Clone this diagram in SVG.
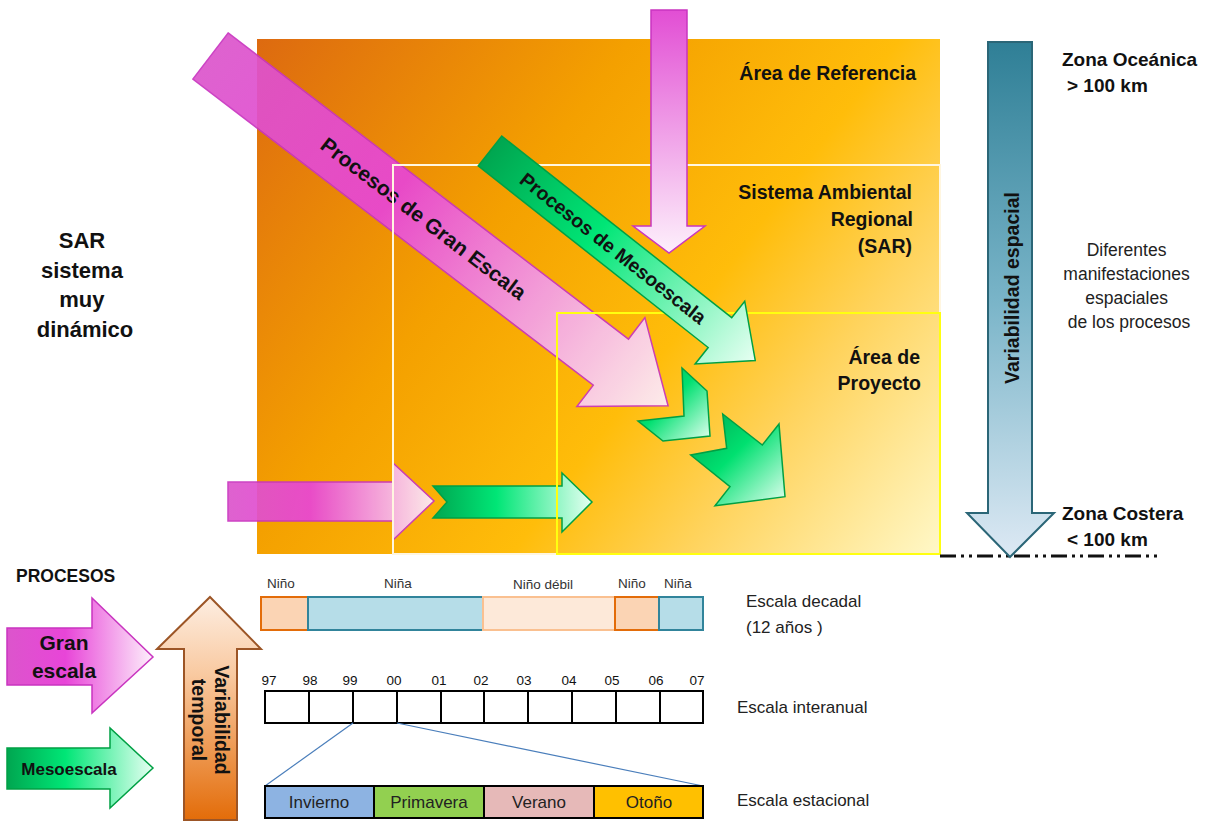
<svg xmlns="http://www.w3.org/2000/svg" width="1208" height="821" viewBox="0 0 1208 821">
  <defs>
    <!-- background of the reference area -->
    <linearGradient id="bgGrad" gradientUnits="userSpaceOnUse" x1="257" y1="39" x2="940" y2="554">
      <stop offset="0" stop-color="#dd6a10"/>
      <stop offset="0.35" stop-color="#f4a000"/>
      <stop offset="0.6" stop-color="#ffbd0a"/>
      <stop offset="0.76" stop-color="#ffd35c"/>
      <stop offset="1" stop-color="#fff8c8"/>
    </linearGradient>
    <linearGradient id="pinkH" x1="0" y1="0" x2="1" y2="0">
      <stop offset="0" stop-color="#dc55cc"/>
      <stop offset="0.4" stop-color="#e845d8"/>
      <stop offset="1" stop-color="#fdf0fb"/>
    </linearGradient>
    <linearGradient id="pinkV" x1="0" y1="0" x2="0" y2="1">
      <stop offset="0" stop-color="#e24ed4"/>
      <stop offset="1" stop-color="#fdf0fb"/>
    </linearGradient>
    <linearGradient id="greenH" x1="0" y1="0" x2="1" y2="0">
      <stop offset="0" stop-color="#00a650"/>
      <stop offset="0.4" stop-color="#00e676"/>
      <stop offset="1" stop-color="#e6fff2"/>
    </linearGradient>
    <linearGradient id="greenD" x1="0" y1="0" x2="1" y2="1">
      <stop offset="0" stop-color="#00a650"/>
      <stop offset="0.45" stop-color="#00e070"/>
      <stop offset="1" stop-color="#e6fff2"/>
    </linearGradient>
    <linearGradient id="blueV" x1="0" y1="0" x2="0" y2="1">
      <stop offset="0" stop-color="#2f7f96"/>
      <stop offset="0.5" stop-color="#79b4c8"/>
      <stop offset="1" stop-color="#dde9f4"/>
    </linearGradient>
    <linearGradient id="orangeV" x1="0" y1="0" x2="0" y2="1">
      <stop offset="0" stop-color="#fdeee2"/>
      <stop offset="0.35" stop-color="#f9c9a0"/>
      <stop offset="1" stop-color="#e36c09"/>
    </linearGradient>
    <style>
      .b { font-family: "Liberation Sans", Arial, sans-serif; font-weight: bold; fill: #111; }
      .r { font-family: "Liberation Sans", Arial, sans-serif; fill: #222; }
      .pink { fill: url(#pinkH); stroke: #c935c0; stroke-width: 1.5; }
      .green { fill: url(#greenH); stroke: #00a044; stroke-width: 1.5; }
      .chev { fill: url(#greenD); stroke: #00a044; stroke-width: 1.5; }
      .cell { fill: #ffffff; stroke: #000; stroke-width: 2; }
      .season { stroke: #000; stroke-width: 2; }
    </style>
  </defs>

  <!-- Área de Referencia background -->
  <g id="area-referencia">
    <rect x="257" y="39" width="683" height="515" fill="url(#bgGrad)"/>
    <text class="b" x="916" y="80" font-size="19.5" text-anchor="end">Área de Referencia</text>
  </g>

  <!-- Large scale diagonal process -->
  <g id="procesos-gran-escala" transform="translate(210.5,56) rotate(37.4)">
    <polygon class="pink" opacity="0.92" points="0,-29 504,-29 504,-56 576,0 504,56 504,29 0,29"/>
    <text class="b" x="268" y="7" font-size="21" text-anchor="middle">Procesos de Gran Escala</text>
  </g>

  <!-- horizontal processes crossing the area -->
  <g id="flecha-gran-escala-h">
    <polygon class="pink" opacity="0.92" points="228,482 393,482 393,463 434,501 393,540 393,521 228,521"/>
  </g>
  <g id="flecha-mesoescala-h">
    <polygon class="green" points="433,486 562,486 562,473 592,502 562,532 562,518 433,518 447,502"/>
  </g>

  <!-- Sistema Ambiental Regional -->
  <g id="sar">
    <rect x="393" y="165" width="547" height="389" fill="none" stroke="#fff6e0" stroke-width="2"/>
    <text class="b" x="912" y="199" font-size="19.5" text-anchor="end">Sistema Ambiental</text>
    <text class="b" x="913" y="226" font-size="19.5" text-anchor="end">Regional</text>
    <text class="b" x="912" y="253" font-size="19.5" text-anchor="end">(SAR)</text>
  </g>

  <!-- Área de Proyecto -->
  <g id="area-proyecto">
    <rect x="557" y="313" width="383" height="241" fill="none" stroke="#ffff10" stroke-width="2"/>
    <text class="b" x="920" y="364" font-size="19.5" text-anchor="end">Área de</text>
    <text class="b" x="921" y="390" font-size="19.5" text-anchor="end">Proyecto</text>
  </g>

  <!-- Mesoscale diagonal process -->
  <g id="procesos-mesoescala" transform="translate(490,151) rotate(38.3)">
    <polygon class="green" points="0,-19 293,-19 293,-40 338,0 293,40 293,19 0,19"/>
    <text class="b" x="157" y="7" font-size="19.5" text-anchor="middle">Procesos de Mesoescala</text>
  </g>

  <!-- vertical large scale input -->
  <g id="flecha-gran-escala-v">
    <polygon class="pink" style="fill:url(#pinkV)" points="651,10 687,10 687,226 705,226 669,253 633,226 651,226"/>
  </g>

  <!-- mesoscale chevrons -->
  <g id="chevrones">
    <polygon class="chev" points="682,368 707,391 710,436 663,441 638,421 684,416"/>
    <polygon class="chev" points="722.7,414 762.3,445 779,424 785,496.7 715,505.7 730,486.7 690.7,455 726.7,448.3"/>
  </g>

  <!-- Variabilidad espacial -->
  <g id="variabilidad-espacial">
    <line x1="940" y1="556" x2="1162" y2="556" stroke="#111" stroke-width="3" stroke-dasharray="16,5,3,5,3,5"/>
    <polygon points="988,42 1032,42 1032,513 1054,513 1010,557 967,513 988,513" fill="url(#blueV)" stroke="#2b6677" stroke-width="2"/>
    <text class="b" transform="translate(1019,288) rotate(-90)" font-size="19.5" text-anchor="middle">Variabilidad espacial</text>
  </g>

  <g id="zona-oceanica">
    <text class="b" x="1062" y="66" font-size="19">Zona Oceánica</text>
    <text class="b" x="1067" y="92" font-size="19">&gt; 100 km</text>
  </g>
  <g id="zona-costera">
    <text class="b" x="1062" y="520" font-size="19">Zona Costera</text>
    <text class="b" x="1067" y="546" font-size="19">&lt; 100 km</text>
  </g>
  <g id="manifestaciones">
    <text class="r" font-size="17.5" text-anchor="middle">
      <tspan x="1129" y="256">Diferentes</tspan>
      <tspan x="1129" y="280">manifestaciones</tspan>
      <tspan x="1129" y="304">espaciales</tspan>
      <tspan x="1129" y="328">de los procesos</tspan>
    </text>
  </g>

  <g id="sar-dinamico">
    <text class="b" font-size="22" text-anchor="middle">
      <tspan x="85" y="248">SAR</tspan>
      <tspan x="85" y="278">sistema</tspan>
      <tspan x="85" y="307">muy</tspan>
      <tspan x="85" y="337">dinámico</tspan>
    </text>
  </g>

  <!-- legend of processes -->
  <g id="procesos">
    <text class="b" x="16" y="582" font-size="17.5">PROCESOS</text>
  </g>
  <g id="leyenda-gran-escala">
    <polygon class="pink" points="7,628 92,628 92,598 153,657 92,713 92,685 7,685"/>
    <text class="b" x="64" y="650" font-size="21" text-anchor="middle">Gran</text>
    <text class="b" x="64" y="678" font-size="21" text-anchor="middle">escala</text>
  </g>
  <g id="leyenda-mesoescala">
    <polygon class="green" points="7,748 110,748 110,728 153,768 110,808 110,789 7,789"/>
    <text class="b" x="69" y="775" font-size="17" text-anchor="middle">Mesoescala</text>
  </g>

  <!-- Variabilidad temporal -->
  <g id="variabilidad-temporal">
    <polygon points="210,597 261,649 237,649 237,820 184,820 184,649 157,649" fill="url(#orangeV)" stroke="#9c5526" stroke-width="2"/>
    <text class="b" transform="translate(215,720) rotate(90)" font-size="19.5" text-anchor="middle">Variabilidad</text>
    <text class="b" transform="translate(192,720) rotate(90)" font-size="19.5" text-anchor="middle">temporal</text>
  </g>

  <!-- Escala decadal -->
  <g id="escala-decadal">
    <rect x="261" y="597" width="47" height="33" fill="#fbd4b4" stroke="#e36c09" stroke-width="2"/>
    <rect x="308" y="597" width="175" height="33" fill="#b6dde8" stroke="#31849b" stroke-width="2"/>
    <rect x="483" y="597" width="132" height="33" fill="#fde9d9" stroke="#fac090" stroke-width="2"/>
    <rect x="615" y="597" width="44" height="33" fill="#fbd4b4" stroke="#e36c09" stroke-width="2"/>
    <rect x="659" y="597" width="44" height="33" fill="#b6dde8" stroke="#31849b" stroke-width="2"/>
    <g class="r" font-size="13.5" text-anchor="middle" style="fill:#333">
      <text x="281" y="588">Niño</text>
      <text x="398" y="588">Niña</text>
      <text x="543" y="589">Niño débil</text>
      <text x="632" y="588">Niño</text>
      <text x="678" y="588">Niña</text>
    </g>
    <text class="r" x="746" y="607" font-size="17">Escala decadal</text>
    <text class="r" x="746" y="633" font-size="17">(12 años )</text>
  </g>

  <!-- Escala interanual -->
  <g id="escala-interanual">
    <g class="r" font-size="13.5" text-anchor="middle" style="fill:#111">
      <text x="269" y="685">97</text>
      <text x="310" y="685">98</text>
      <text x="350" y="685">99</text>
      <text x="394" y="685">00</text>
      <text x="439" y="685">01</text>
      <text x="481" y="685">02</text>
      <text x="524" y="685">03</text>
      <text x="569" y="685">04</text>
      <text x="612" y="685">05</text>
      <text x="656" y="685">06</text>
      <text x="697" y="685">07</text>
    </g>
    <rect class="cell" x="265" y="691" width="44" height="32"/>
    <rect class="cell" x="309" y="691" width="44" height="32"/>
    <rect class="cell" x="353" y="691" width="44" height="32"/>
    <rect class="cell" x="397" y="691" width="44" height="32"/>
    <rect class="cell" x="441" y="691" width="43" height="32"/>
    <rect class="cell" x="484" y="691" width="44" height="32"/>
    <rect class="cell" x="528" y="691" width="44" height="32"/>
    <rect class="cell" x="572" y="691" width="44" height="32"/>
    <rect class="cell" x="616" y="691" width="44" height="32"/>
    <rect class="cell" x="660" y="691" width="43" height="32"/>
    <text class="r" x="737" y="713" font-size="17">Escala interanual</text>
  </g>

  <!-- zoom lines from year 99 to seasons -->
  <g id="conectores">
    <line x1="353" y1="723" x2="265" y2="786" stroke="#4a7ebb" stroke-width="1.2"/>
    <line x1="397" y1="723" x2="703" y2="786" stroke="#4a7ebb" stroke-width="1.2"/>
  </g>

  <!-- Escala estacional -->
  <g id="escala-estacional">
    <rect class="season" x="265" y="786" width="109" height="32" fill="#8db3e2"/>
    <rect class="season" x="374" y="786" width="110" height="32" fill="#92d050"/>
    <rect class="season" x="484" y="786" width="110" height="32" fill="#e6b9b8"/>
    <rect class="season" x="594" y="786" width="109" height="32" fill="#ffc000"/>
    <g class="r" font-size="17" text-anchor="middle" style="fill:#222">
      <text x="319" y="808">Invierno</text>
      <text x="429" y="808">Primavera</text>
      <text x="539" y="808">Verano</text>
      <text x="649" y="808">Otoño</text>
    </g>
    <text class="r" x="737" y="806" font-size="17">Escala estacional</text>
  </g>
</svg>
